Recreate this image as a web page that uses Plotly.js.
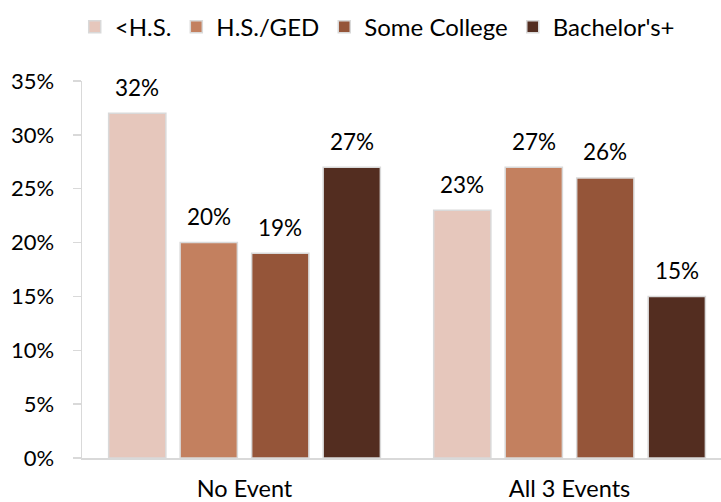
<!DOCTYPE html>
<html>
<head>
<meta charset="utf-8">
<script src="https://cdn.plot.ly/plotly-3.0.1.min.js"></script>
<style>html,body{margin:0;padding:0;background:#fff;}#chart{width:721px;height:502px;}</style>
</head>
<body>
<div id="chart"></div>
<script>
var categories = ["No Event", "All 3 Events"];
var seriesNames = ["<H.S.", "H.S./GED", "Some College", "Bachelor's+"];
var lessHS = [0.32, 0.23];
var hsGed = [0.20, 0.27];
var someCollege = [0.19, 0.26];
var bachelors = [0.27, 0.15];
var yTickVals = [0, 0.05, 0.10, 0.15, 0.20, 0.25, 0.30, 0.35];
var yTickText = ["0%", "5%", "10%", "15%", "20%", "25%", "30%", "35%"];

var seriesValues = [lessHS, hsGed, someCollege, bachelors];
var colors = ["#E6C7BC", "#C3805F", "#955539", "#532D20"];
var FONT = "Lato, 'Open Sans', sans-serif";
var bargap = 0.12;

var traces = seriesValues.map(function (vals, i) {
  return {
    type: "bar",
    name: seriesNames[i],
    x: categories,
    y: vals,
    marker: { color: colors[i], line: { color: "#d9d9d9", width: 1.5 } },
    hoverinfo: "skip"
  };
});

var annotations = [];
var slot = (1 - bargap) / seriesValues.length;
seriesValues.forEach(function (vals, j) {
  vals.forEach(function (v, i) {
    annotations.push({
      xref: "x", yref: "y",
      x: i + (j - (seriesValues.length - 1) / 2) * slot,
      y: v,
      text: Math.round(v * 100) + "%",
      showarrow: false,
      yanchor: "middle",
      yshift: 26,
      font: { family: FONT, size: 22.5, color: "#000" }
    });
  });
});

var layout = {
  width: 721,
  height: 502,
  margin: { l: 82, r: 0, t: 81, b: 44, pad: 0 },
  paper_bgcolor: "#fff",
  plot_bgcolor: "#fff",
  font: { family: FONT, size: 22, color: "#000" },
  barmode: "group",
  bargap: bargap,
  bargroupgap: 0.2,
  showlegend: true,
  legend: {
    orientation: "h",
    xref: "paper", yref: "paper",
    x: 0.462, xanchor: "center",
    y: 1.143, yanchor: "middle",
    font: { family: FONT, size: 24, color: "#000" },
    bgcolor: "rgba(0,0,0,0)"
  },
  xaxis: {
    type: "category",
    range: [-0.5, 1.466],
    showgrid: false,
    zeroline: false,
    showline: true,
    linecolor: "#d9d9d9",
    linewidth: 1.5,
    ticks: "",
    ticklabelstandoff: 9,
    tickfont: { family: FONT, size: 23.5, color: "#000" },
    fixedrange: true
  },
  yaxis: {
    range: [0, 0.35],
    tickvals: yTickVals,
    ticktext: yTickText,
    showgrid: false,
    zeroline: false,
    showline: true,
    linecolor: "#d9d9d9",
    linewidth: 1.5,
    ticks: "outside",
    ticklen: 8,
    tickwidth: 1.5,
    tickcolor: "#d9d9d9",
    ticklabelstandoff: 14,
    tickfont: { family: FONT, size: 22, color: "#000" },
    fixedrange: true
  },
  yaxis2: {
    overlaying: "y",
    side: "left",
    range: [0, 0.35],
    tickvals: yTickVals,
    showticklabels: false,
    showgrid: false,
    zeroline: false,
    showline: false,
    ticks: "inside",
    ticklen: 9,
    tickwidth: 1.5,
    tickcolor: "#d9d9d9",
    fixedrange: true
  },
  annotations: annotations
};

Plotly.newPlot("chart", traces, layout, { displayModeBar: false, staticPlot: true });
</script>
</body>
</html>
